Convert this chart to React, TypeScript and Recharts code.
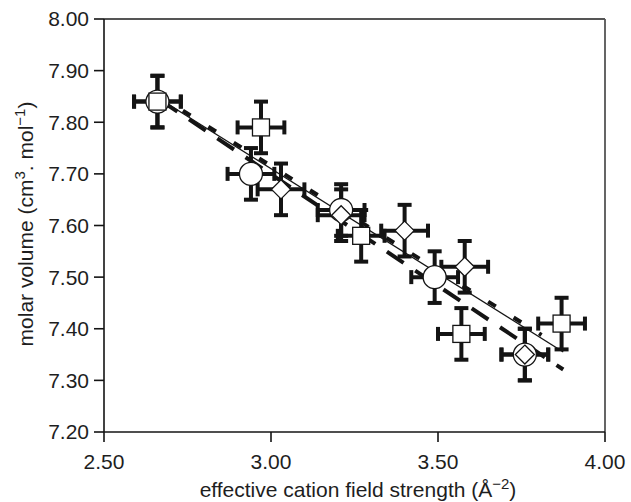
import React from 'react';
import { ComposedChart, XAxis, YAxis, Scatter, Line, ErrorBar, ReferenceLine, Label } from 'recharts';

const xTicks = [2.5, 3.0, 3.5, 4.0];
const yTicks = [7.2, 7.3, 7.4, 7.5, 7.6, 7.7, 7.8, 7.9, 8.0];

const circleX = [2.66, 2.94, 3.21, 3.49, 3.76];
const circleY = [7.84, 7.70, 7.63, 7.50, 7.35];
const circleErrX = [0.07, 0.07, 0.07, 0.07, 0.07];
const circleErrY = [0.05, 0.05, 0.05, 0.05, 0.05];

const squareX = [2.66, 2.97, 3.27, 3.57, 3.87];
const squareY = [7.84, 7.79, 7.58, 7.39, 7.41];
const squareErrX = [0.07, 0.07, 0.07, 0.07, 0.07];
const squareErrY = [0.05, 0.05, 0.05, 0.05, 0.05];

const diamondX = [3.03, 3.21, 3.40, 3.58, 3.76];
const diamondY = [7.67, 7.62, 7.59, 7.52, 7.35];
const diamondErrX = [0.07, 0.07, 0.07, 0.07, 0.07];
const diamondErrY = [0.05, 0.05, 0.05, 0.05, 0.05];

const fitSolidX = [2.66, 3.875];
const fitSolidY = [7.848, 7.355];
const fitShortDashX = [2.66, 3.81];
const fitShortDashY = [7.853, 7.388];
const fitLongDashX = [2.67, 3.875];
const fitLongDashY = [7.842, 7.321];

const toPoints = (xs: number[], ys: number[], ex?: number[], ey?: number[]) =>
  xs.map((x, i) => ({ x, y: ys[i], ex: ex ? ex[i] : 0, ey: ey ? ey[i] : 0 }));

const circles = toPoints(circleX, circleY, circleErrX, circleErrY);
const squares = toPoints(squareX, squareY, squareErrX, squareErrY);
const diamonds = toPoints(diamondX, diamondY, diamondErrX, diamondErrY);
const solidLine = toPoints(fitSolidX, fitSolidY);
const shortDashLine = toPoints(fitShortDashX, fitShortDashY);
const longDashLine = toPoints(fitLongDashX, fitLongDashY);

const INK = '#141414';
const TEXT = '#1e1e1e';
const FONT = '"Liberation Sans", Arial, Helvetica, sans-serif';
const FS = 21;

const CircleShape = (p: any) => (
  <circle cx={p.cx} cy={p.cy} r={11.5} fill="#fff" stroke={INK} strokeWidth={1.3} />
);
const SquareShape = (p: any) => (
  <rect x={p.cx - 8.5} y={p.cy - 8.5} width={17} height={17} fill="#fff" stroke={INK} strokeWidth={1.3} />
);
const DiamondShape = (p: any) => (
  <polygon
    points={`${p.cx},${p.cy - 9.5} ${p.cx + 9.5},${p.cy} ${p.cx},${p.cy + 9.5} ${p.cx - 9.5},${p.cy}`}
    fill="#fff"
    stroke={INK}
    strokeWidth={1.3}
  />
);

const XTitle = () => (
  <text x={358} y={497} textAnchor="middle" fontFamily={FONT} fontSize={FS} fill={TEXT}>
    effective cation field strength (Å
    <tspan dy={-8} fontSize={15}>−2</tspan>
    <tspan dy={8}>)</tspan>
  </text>
);

const YTitle = () => (
  <text
    x={33}
    y={224}
    transform="rotate(-90, 33, 224)"
    textAnchor="middle"
    fontFamily={FONT}
    fontSize={FS}
    fill={TEXT}
  >
    molar volume (cm
    <tspan dy={-8} fontSize={15}>3</tspan>
    <tspan dy={8}>. mol</tspan>
    <tspan dy={-8} fontSize={15}>−1</tspan>
    <tspan dy={8}>)</tspan>
  </text>
);

const errProps = { stroke: INK, strokeWidth: 4, width: 7 };

export default function App() {
  return (
    <div style={{ position: 'absolute', left: 0, top: 0 }}>
      <ComposedChart
        width={631}
        height={502}
        margin={{ top: 19, right: 26, bottom: 0, left: 0 }}
      >
        <XAxis
          dataKey="x"
          type="number"
          domain={[2.5, 4.0]}
          ticks={xTicks}
          allowDataOverflow
          height={70}
          tickFormatter={(v: number) => v.toFixed(2)}
          tick={{ fontFamily: FONT, fontSize: FS, fill: TEXT }}
          tickSize={10}
          tickMargin={12}
          axisLine={{ stroke: INK, strokeWidth: 1.6 }}
          tickLine={{ stroke: INK, strokeWidth: 1.6 }}
        >
          <Label content={<XTitle />} />
        </XAxis>
        <YAxis
          type="number"
          domain={[7.2, 8.0]}
          ticks={yTicks}
          allowDataOverflow
          width={104}
          tickFormatter={(v: number) => v.toFixed(2)}
          tick={{ fontFamily: FONT, fontSize: FS, fill: TEXT }}
          tickSize={10}
          tickMargin={5}
          axisLine={{ stroke: INK, strokeWidth: 1.6 }}
          tickLine={{ stroke: INK, strokeWidth: 1.6 }}
        >
          <Label content={<YTitle />} />
        </YAxis>
        <ReferenceLine y={8.0} stroke="#555" strokeWidth={1.8} />
        <ReferenceLine x={4.0} stroke="#555" strokeWidth={1.8} />

        <Scatter data={circles} dataKey="y" shape={CircleShape} isAnimationActive={false}>
          <ErrorBar dataKey="ex" direction="x" {...errProps} />
          <ErrorBar dataKey="ey" direction="y" {...errProps} />
        </Scatter>
        <Scatter data={squares} dataKey="y" shape={SquareShape} isAnimationActive={false}>
          <ErrorBar dataKey="ex" direction="x" {...errProps} />
          <ErrorBar dataKey="ey" direction="y" {...errProps} />
        </Scatter>
        <Scatter data={diamonds} dataKey="y" shape={DiamondShape} isAnimationActive={false}>
          <ErrorBar dataKey="ex" direction="x" {...errProps} />
          <ErrorBar dataKey="ey" direction="y" {...errProps} />
        </Scatter>

        <Line
          data={solidLine}
          dataKey="y"
          type="linear"
          stroke={INK}
          strokeWidth={1.3}
          dot={false}
          activeDot={false}
          isAnimationActive={false}
        />
        <Line
          data={shortDashLine}
          dataKey="y"
          type="linear"
          stroke={INK}
          strokeWidth={4}
          strokeDasharray="9 21"
          dot={false}
          activeDot={false}
          isAnimationActive={false}
        />
        <Line
          data={longDashLine}
          dataKey="y"
          type="linear"
          stroke={INK}
          strokeWidth={4}
          strokeDasharray="20 14"
          dot={false}
          activeDot={false}
          isAnimationActive={false}
        />
      </ComposedChart>
    </div>
  );
}
